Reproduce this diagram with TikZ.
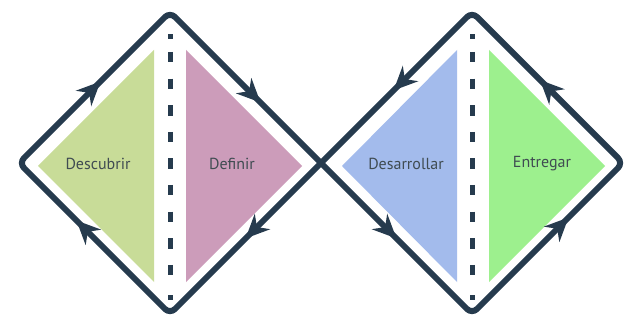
\documentclass[tikz,border=0pt]{standalone}
\usepackage{fontspec}
\setmainfont{PT Sans}
\usetikzlibrary{calc}
\definecolor{edgec}{HTML}{263B4E}
\definecolor{tgreen}{HTML}{C8DC98}
\definecolor{tpink}{HTML}{CC9CBA}
\definecolor{tblue}{HTML}{A3BBEC}
\definecolor{tlime}{HTML}{9DF08E}
\definecolor{txt}{HTML}{404C52}
\tikzset{
  ahead/.pic={\fill[edgec] (2pt,0pt) -- (-22pt,11pt) -- (-14pt,0pt) -- (-22pt,-11pt) -- cycle;},
  divider/.style={edgec,line width=5pt,dash pattern=on 10.5pt off 16.1pt},
  dot/.style={fill=edgec},
  label/.style={font=\fontsize{16}{17}\selectfont,text=txt,inner sep=0pt}
}
\begin{document}
\begin{tikzpicture}[x=1pt,y=-1pt]
\useasboundingbox (0,0) rectangle (629,323);
\fill[white] (0,0) rectangle (629,323);
% diamond vertices
\coordinate (T1) at (170,12);
\coordinate (L1) at (19,163);
\coordinate (B1) at (170,314);
\coordinate (X) at (321,163);
\coordinate (T2) at (472,12);
\coordinate (B2) at (472,314);
\coordinate (R2) at (623,163);
% triangles
\fill[tgreen] (38,166) -- (154,50) -- (154,282) -- cycle;
\fill[tpink] (186,50) -- (186,282) -- (302,166) -- cycle;
\fill[tblue] (342,166) -- (457,50) -- (457,282) -- cycle;
\fill[tlime] (489,50) -- (489,282) -- (605,166) -- cycle;
% outline (figure eight)
\draw[edgec,line width=6pt,rounded corners=7pt,line join=round]
  (X) -- (B2) -- (R2) -- (T2) -- (B1) -- (L1) -- (T1) -- cycle;
% arrowheads
\coordinate (a1) at ($(L1)!0.53!(T1)$);
\coordinate (a2) at ($(T1)!0.59!(X)$);
\coordinate (a3) at ($(X)!0.49!(B1)$);
\coordinate (a4) at ($(B1)!0.61!(L1)$);
\coordinate (a5) at ($(T2)!0.51!(X)$);
\coordinate (a6) at ($(X)!0.49!(B2)$);
\coordinate (a7) at ($(B2)!0.63!(R2)$);
\coordinate (a8) at ($(R2)!0.54!(T2)$);
\pic[rotate=45] at (a1) {ahead};
\pic[rotate=-45] at (a2) {ahead};
\pic[rotate=-135] at (a3) {ahead};
\pic[rotate=135] at (a4) {ahead};
\pic[rotate=-135] at (a5) {ahead};
\pic[rotate=-45] at (a6) {ahead};
\pic[rotate=45] at (a7) {ahead};
\pic[rotate=135] at (a8) {ahead};
% dividers
\draw[divider] (170,52) -- (170,276);
\draw[divider] (472,52) -- (472,276);
\fill[dot] (167.5,34.5) rectangle (172.5,39.5);
\fill[dot] (167.5,294.5) rectangle (172.5,299.5);
\fill[dot] (469.5,34.5) rectangle (474.5,39.5);
\fill[dot] (469.5,294.5) rectangle (474.5,299.5);
% labels
\node[label] (n1) at (98,164) {Descubrir};
\node[label] (n2) at (232,164) {Definir};
\node[label] (n3) at (406,164) {Desarrollar};
\node[label] (n4) at (542,164) {Entregar};
\end{tikzpicture}
\end{document}
